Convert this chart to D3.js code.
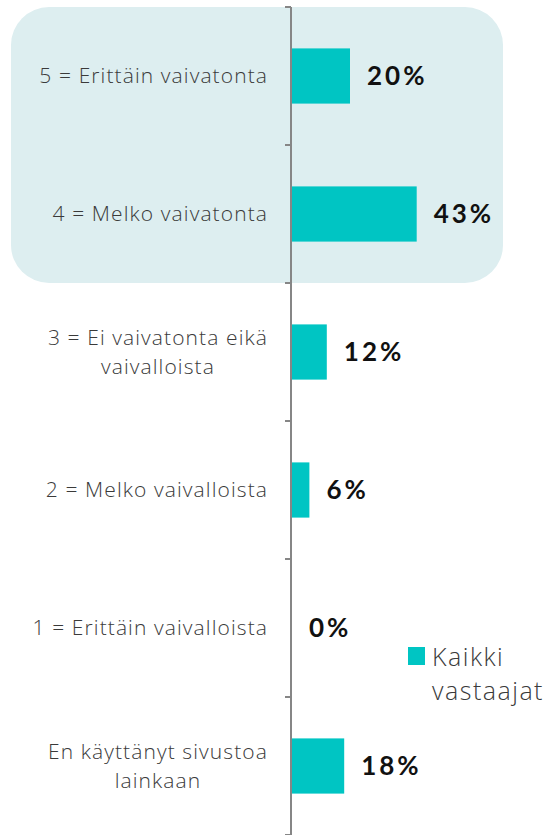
<!DOCTYPE html>
<html>
<head>
<meta charset="utf-8">
<script src="https://cdn.jsdelivr.net/npm/d3@7"></script>
<style>
  body { margin: 0; background: #fff; }
  svg { display: block; }
</style>
</head>
<body>
<div id="chart"></div>
<script>
// data
let categories = [
    "5 = Erittäin vaivatonta",
    "4 = Melko vaivatonta",
    "3 = Ei vaivatonta eikä|vaivalloista",
    "2 = Melko vaivalloista",
    "1 = Erittäin vaivalloista",
    "En käyttänyt sivustoa|lainkaan"
];
let values = [20, 43, 12, 6, 0, 18];
let highlighted = [categories[0], categories[1]];
let seriesName = ["Kaikki", "vastaajat"];

let svgWidth = 549;
let svgHeight = 835;
let labelFont = "'Open Sans', Lato, sans-serif";

let svg = d3.select("#chart")
    .append("svg")
    .attr("width", svgWidth)
    .attr("height", svgHeight);

// scales
let y = d3.scaleBand()
    .domain(categories)
    .range([7, 835])
    .paddingInner(0.6)
    .paddingOuter(0.3);

let step = y.step();
let x = d3.scaleLinear()
    .domain([0, 50])
    .range([292, 437]);

// highlight box behind the two top answers
let hTop = y(highlighted[0]) - step * 0.3;
let hBottom = y(highlighted[1]) + y.bandwidth() + step * 0.3;
svg.append("rect")
    .attr("x", 11)
    .attr("y", hTop)
    .attr("width", 492)
    .attr("height", hBottom - hTop)
    .attr("rx", 38)
    .attr("fill", "#ddeef0");

// bars
svg.selectAll(".bar")
    .data(values)
    .enter()
    .append("rect")
    .attr("class", "bar")
    .attr("x", x(0))
    .attr("y", (d, i) => y(categories[i]))
    .attr("width", d => x(d) - x(0))
    .attr("height", y.bandwidth())
    .attr("fill", "#00c5c3");

// axis line + ticks
let axisX = 291;
svg.append("line")
    .attr("x1", axisX).attr("x2", axisX)
    .attr("y1", 7).attr("y2", 835)
    .attr("stroke", "#868686")
    .attr("stroke-width", 2);

let tickYs = categories.map(c => y(c) - step * 0.3);
tickYs.push(y(categories[categories.length - 1]) + y.bandwidth() + step * 0.3);
svg.selectAll(".tick")
    .data(tickYs)
    .enter()
    .append("line")
    .attr("x1", axisX - 6).attr("x2", axisX)
    .attr("y1", d => d).attr("y2", d => d)
    .attr("stroke", "#868686")
    .attr("stroke-width", 2);

// category labels
let labelRight = 268;
categories.forEach(c => {
    let lines = c.split("|");
    let cy = y(c) + y.bandwidth() / 2;
    let t = svg.append("text")
        .attr("font-family", labelFont)
        .attr("font-weight", 300)
        .attr("font-size", 21)
        .attr("letter-spacing", 1.1)
        .attr("fill", "#3a3a3a");
    if (lines.length == 1) {
        t.attr("x", labelRight)
            .attr("y", cy + 7)
            .attr("text-anchor", "end")
            .text(lines[0]);
    } else {
        t.attr("text-anchor", "middle");
        let spans = lines.map((l, i) => t.append("tspan")
            .attr("y", cy - 7 + i * 29)
            .text(l));
        let w = d3.max(spans, s => s.node().getComputedTextLength());
        spans.forEach(s => s.attr("x", labelRight - w / 2));
    }
});

// value labels
svg.selectAll(".val")
    .data(values)
    .enter()
    .append("text")
    .attr("class", "val")
    .attr("x", d => x(d) + 17)
    .attr("y", (d, i) => y(categories[i]) + y.bandwidth() / 2 + 9)
    .attr("font-family", "Lato, 'Open Sans', sans-serif")
    .attr("font-weight", "bold")
    .attr("font-size", 26)
    .attr("letter-spacing", 3)
    .attr("fill", "#111")
    .text(d => d + "%");

// legend
svg.append("rect")
    .attr("x", 408).attr("y", 647)
    .attr("width", 17).attr("height", 18)
    .attr("fill", "#00c5c3");

svg.append("text")
    .attr("font-family", labelFont)
    .attr("font-weight", 300)
    .attr("font-size", 25)
    .attr("letter-spacing", 1.5)
    .attr("fill", "#3a3a3a")
    .selectAll("tspan")
    .data(seriesName)
    .enter()
    .append("tspan")
    .attr("x", 432)
    .attr("y", (d, i) => 666 + i * 34)
    .text(d => d);
</script>
</body>
</html>
